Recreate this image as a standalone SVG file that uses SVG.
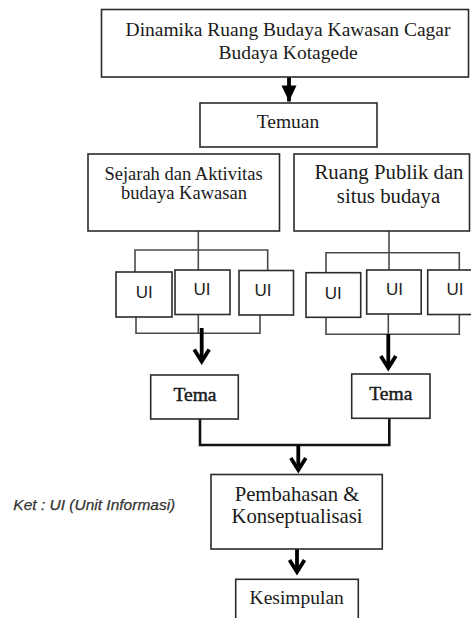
<svg xmlns="http://www.w3.org/2000/svg" width="471" height="618" viewBox="0 0 471 618">
<style>
.box{fill:#fff;stroke:#2b2b2b;stroke-width:1.6}
.ln{fill:none;stroke:#4a4a4a;stroke-width:1.6}
.thick{fill:none;stroke:#111;stroke-width:2.6}
.arr{fill:none;stroke:#000;stroke-width:3.8}
.t{font-family:"Liberation Serif","Times New Roman",serif;fill:#1a1a1a;text-anchor:middle}
.tema{stroke:#1a1a1a;stroke-width:0.45}
.ui{font-family:"Liberation Sans",Arial,sans-serif;font-size:17px;fill:#222;text-anchor:middle}
.ket{font-family:"Liberation Sans",Arial,sans-serif;font-size:15.5px;font-style:italic;fill:#333;stroke:#333;stroke-width:0.25}
</style>
<defs>
<marker id="chev" markerUnits="userSpaceOnUse" orient="auto" overflow="visible" markerWidth="20" markerHeight="20" refX="0" refY="0">
<path d="M-12,-7.5 L0,0 L-12,7.5" fill="none" stroke="#000" stroke-width="3.8" stroke-linejoin="miter"/>
</marker>
<marker id="tri" markerUnits="userSpaceOnUse" orient="auto" overflow="visible" markerWidth="20" markerHeight="20" refX="0" refY="0">
<path d="M-16,-7.5 L0,0 L-16,7.5 Z" fill="#000"/>
</marker>
</defs>
<rect width="471" height="618" fill="#fff"/>
<g id="connectors">
<path class="arr" d="M289,77 V101.5" marker-end="url(#tri)"/>
<path class="ln" d="M198.3,231 V270"/>
<path class="ln" d="M135,272 V250 H267.7 V270.5"/>
<path class="ln" d="M389,231 V270"/>
<path class="ln" d="M326,272.7 V252.7 H459.3 V270"/>
<path class="ln" d="M136,316.7 V333.3 H260 V315"/>
<path class="ln" d="M198.3,314.3 V333.3"/>
<path class="ln" d="M326,317.3 V334.3 H459.3 V314.5"/>
<path class="ln" d="M388.3,314 V334.3"/>
<path class="arr" d="M201.7,328 V361.5" marker-end="url(#chev)"/>
<path class="arr" d="M388.3,334 V368" marker-end="url(#chev)"/>
<path class="thick" d="M200,419 V445 H389.3 V418.3"/>
<path class="arr" d="M298.3,445 V470" marker-end="url(#chev)"/>
<path class="arr" d="M297,549 V572" marker-end="url(#chev)"/>
</g>
<g id="dinamika">
<rect class="box" x="101.5" y="9.5" width="367" height="67.5"/>
<text class="t" font-size="19.5" x="288" y="36">Dinamika Ruang Budaya Kawasan Cagar</text>
<text class="t" font-size="19.5" x="288" y="59">Budaya Kotagede</text>
</g>
<g id="temuan">
<rect class="box" x="200" y="103" width="177" height="44"/>
<text class="t" font-size="19.5" x="288" y="128">Temuan</text>
</g>
<g id="sejarah">
<rect class="box" x="88" y="154" width="191.5" height="77"/>
<text class="t" font-size="18.5" x="183.5" y="180">Sejarah dan Aktivitas</text>
<text class="t" font-size="18.5" x="184" y="199">budaya Kawasan</text>
</g>
<g id="ruang">
<rect class="box" x="294" y="154" width="175.5" height="77"/>
<text class="t" font-size="20.8" x="389" y="179">Ruang Publik dan</text>
<text class="t" font-size="20.8" x="388.5" y="203">situs budaya</text>
</g>
<g id="ui1"><rect class="box" x="116" y="272" width="56" height="45"/><text class="ui" x="144.3" y="298.3">UI</text></g>
<g id="ui2"><rect class="box" x="175" y="270" width="55" height="44.5"/><text class="ui" x="202" y="295">UI</text></g>
<g id="ui3"><rect class="box" x="239" y="270.5" width="54.5" height="44.5"/><text class="ui" x="263" y="295.5">UI</text></g>
<g id="ui4"><rect class="box" x="306" y="272.7" width="54.7" height="44.6"/><text class="ui" x="333.3" y="299.3">UI</text></g>
<g id="ui5"><rect class="box" x="366.7" y="270" width="54.5" height="44"/><text class="ui" x="394.5" y="295">UI</text></g>
<g id="ui6"><rect class="box" x="427.7" y="270" width="55" height="44.5"/><text class="ui" x="455" y="295">UI</text></g>
<g id="tema1">
<rect class="box" x="150.7" y="375" width="87.6" height="44"/>
<text class="t tema" font-size="19.5" x="195" y="400.7">Tema</text>
</g>
<g id="tema2">
<rect class="box" x="351.7" y="374" width="78.3" height="44.3"/>
<text class="t tema" font-size="19.5" x="390.8" y="400">Tema</text>
</g>
<g id="pembahasan">
<rect class="box" x="211" y="474.5" width="171.3" height="74.5"/>
<text class="t" font-size="20.7" x="297" y="500.7">Pembahasan &amp;</text>
<text class="t" font-size="20.7" x="297" y="523.3">Konseptualisasi</text>
</g>
<g id="kesimpulan">
<rect class="box" x="235.7" y="579.3" width="122.6" height="60"/>
<text class="t" font-size="19.5" x="296.7" y="604.3">Kesimpulan</text>
</g>
<g id="ket">
<text class="ket" x="13.3" y="510" textLength="162" lengthAdjust="spacingAndGlyphs">Ket : UI (Unit Informasi)</text>
</g>
</svg>
